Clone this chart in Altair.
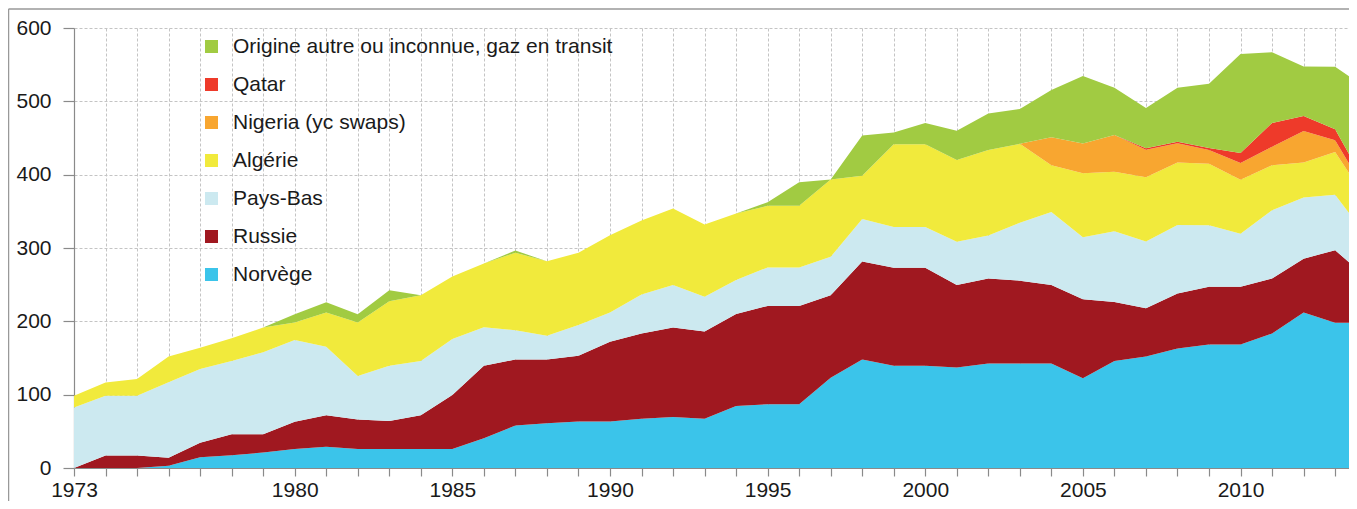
import altair as alt
import pandas as pd

years = list(range(1973, 2015))

norvege = [0, 0, 0, 3, 14.5, 17.5, 21, 26, 29, 26, 26, 26, 26, 40.5, 58, 61, 63.5, 63.5, 67, 69.5,
           67, 84.5, 87, 87, 123, 148, 139.5, 139.5, 137, 142.5, 142.5, 142.5, 122.5, 146, 152, 163,
           168.5, 168.5, 183.5, 212, 198, 198]
russie = [0, 17, 17, 11, 20, 28.5, 25, 37, 43, 40, 38, 46, 73.5, 99, 90, 87, 89.5, 108.5, 116.5, 122,
          119, 125.5, 134, 134, 112.5, 133.5, 133.5, 133.5, 112.5, 116, 113, 107, 107.5, 80.5, 66, 75,
          78.5, 78.5, 75, 73.5, 99, 61.5]
pays_bas = [82.5, 81.5, 81.5, 103, 100.5, 100, 112, 111.5, 93.5, 59.5, 75.5, 74, 76.5, 52.5, 40, 32.5,
            42, 40, 53, 58, 47.5, 46.5, 52.5, 52.5, 52.5, 58, 55.5, 55.5, 59, 58.5, 79, 99.5, 84.5,
            96.5, 91, 93.5, 84, 72.5, 93, 83.5, 75.5, 57]
algerie = [16, 18, 23, 35, 29, 31, 33.5, 24, 46.5, 73, 88, 89.5, 85, 87, 105.5, 101.5, 98.5, 105.5,
           101, 104.5, 98.5, 90.5, 84, 84, 105.5, 59, 113, 113, 111.5, 116.5, 107.5, 64, 87.5, 81,
           87.5, 85, 84, 73.5, 61.5, 47.5, 58.5, 49.5]
nigeria = [0] * 31 + [38, 40.5, 50, 37.5, 26.5, 18.5, 23, 25, 43, 16, 9]
qatar = [0] * 34 + [2, 2, 3, 13.5, 32.5, 20.5, 15, 10]
autre = [0] * 7 + [11, 14, 11, 15, 0, 0, 0, 3, 0, 0,
                   0, 0, 0, 0, 0, 5, 32, 0, 55, 16,
                   29, 40, 50, 47.5, 64.5, 92, 64.5, 55, 73.5, 87.5,
                   135, 96.5, 67.5, 85, 133]

# stack order, bottom to top
series_names = ["Norvège", "Russie", "Pays-Bas", "Algérie", "Nigeria (yc swaps)", "Qatar",
                "Origine autre ou inconnue, gaz en transit"]
series_values = [norvege, russie, pays_bas, algerie, nigeria, qatar, autre]
series_colors = ["#3BC4EA", "#A01820", "#CCE9F0", "#F1EA3C", "#F8A630", "#EE3A2A", "#A1CB42"]

tick_years = list(range(1973, 2014))

rows = []
for i, (name, vals) in enumerate(zip(series_names, series_values)):
    for yr, v in zip(years, vals):
        rows.append({"annee": yr, "source": name, "valeur": v, "ordre": i})
df = pd.DataFrame(rows)

W, H = 1275, 440
FONT = "Liberation Sans"

areas = alt.Chart(df).mark_area(clip=True, interpolate="linear").encode(
    x=alt.X("annee:Q",
            scale=alt.Scale(domain=[1973, 2013.44], nice=False, zero=False),
            axis=alt.Axis(values=tick_years, format="d",
                          labelExpr="(datum.value == 1973 || (datum.value % 5 == 0 && datum.value >= 1980)) ? datum.label : ''",
                          title=None, tickSize=8, labelPadding=3, labelFlush=False, grid=True)),
    y=alt.Y("valeur:Q", stack="zero",
            scale=alt.Scale(domain=[0, 600], nice=False),
            axis=alt.Axis(values=[0, 100, 200, 300, 400, 500, 600], title=None, tickSize=11,
                          labelPadding=12, grid=True)),
    color=alt.Color("source:N",
                    scale=alt.Scale(domain=series_names[::-1], range=series_colors[::-1]),
                    legend=alt.Legend(title=None, orient="none", legendX=127, legendY=8,
                                      symbolType="square", symbolSize=169, symbolStrokeWidth=0,
                                      labelOffset=11, rowPadding=16, padding=0,
                                      labelFontSize=21, labelFont=FONT, labelColor="#1a1a1a",
                                      labelLimit=600)),
    order=alt.Order("ordre:Q", sort="ascending"),
)

frame_df = pd.DataFrame({"k": [0]})
top_line = alt.Chart(frame_df).mark_rule(color="#999999", strokeWidth=1.5).encode(
    x=alt.value(-65.5), x2=alt.value(W), y=alt.value(-19))
left_line = alt.Chart(frame_df).mark_rule(color="#999999", strokeWidth=1.5).encode(
    x=alt.value(-65.5), y=alt.value(-19), y2=alt.value(H + 33))

chart = alt.layer(areas, top_line, left_line).properties(
    width=W, height=H,
    padding={"left": 66, "top": 20, "right": 0, "bottom": 33},
    autosize=alt.AutoSizeParams(type="none"),
).configure_view(stroke=None).configure_axis(
    gridColor="#c4c4c4", gridDash=[3, 2], gridWidth=1,
    domainColor="#8a8a8a", domainWidth=1.2, tickColor="#8a8a8a", tickWidth=1.2,
    labelFont=FONT, labelFontSize=21, labelColor="#1a1a1a",
)

chart.save("out.html", embed_options={"renderer": "svg", "actions": False})
